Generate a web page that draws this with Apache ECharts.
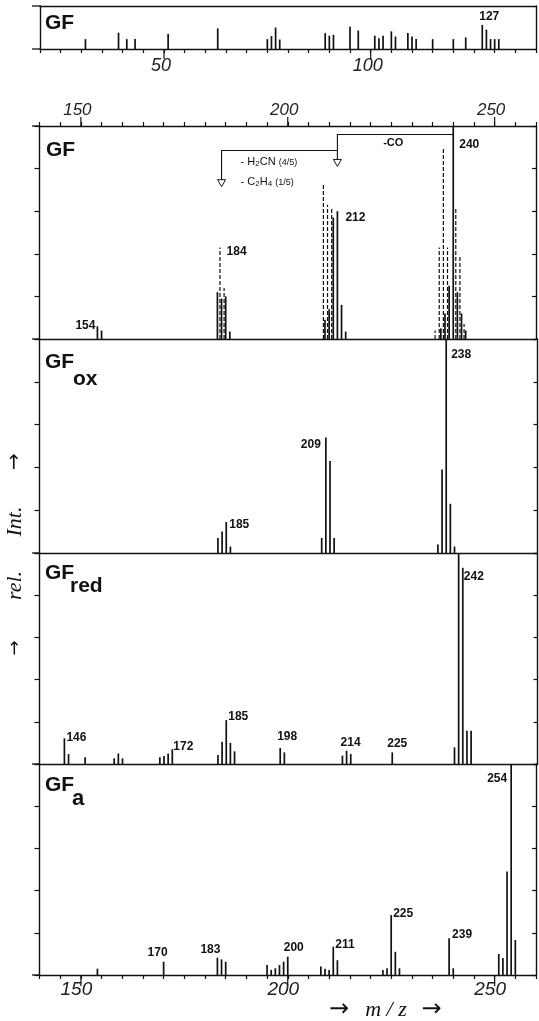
<!DOCTYPE html>
<html><head><meta charset="utf-8">
<script src="https://cdn.jsdelivr.net/npm/echarts@6/dist/echarts.min.js"></script>
<style>html,body{margin:0;padding:0;background:#fff}#c{width:539px;height:1021px}</style>
</head><body><div id="c"></div>
<script>
// ---------- DATA (m/z and relative intensity, % of panel height) ----------
// Top panel: GF, low-mass region
const lowMz  = [31,39,41,43,51,63,75,76,77,78,89,90,91,95,97,101,102,103,105,106,109,110,111,115,120,123,127,128,129,130,131];
const lowInt = [23,38,23,23,35,48,23,30,50,22,37,31,33,52,43,31,25,31,41,29,37,29,23,23,23,27,56,45,23,23,23];
const lowLabels = [127];
// GF (solid = measured, dashed = second pattern)
const gfSolidMz  = [154,155,183,184,185,186,209,210,211,212,213,214,237,238,239,240,241,242,243];
const gfSolidInt = [6,4,22,19,20,3.5,9,14,57,60,16,3.5,5,12,25,100,22,12,4];
const gfDashMz   = [184,185,209,210,211,236,237,238,239,241,242,243];
const gfDashInt  = [43,24,73,63,62,4,43,90,43,61,39,7];
const gfLabels = [154,184,212,240];
// GF ox
const oxMz  = [183,184,185,186,208,209,210,211,236,237,238,239,240];
const oxInt = [7,10,14.5,3,7,54,43,7,4,39,100,23,3];
const oxLabels = [185,209,238];
// GF red
const redMz  = [146,147,151,158,159,160,169,170,171,172,183,184,185,186,187,198,199,213,214,215,225,240,241,242,243,244];
const redInt = [12.2,4.7,3.2,2.7,5,2.7,3.2,3.8,5,7,4.3,10.6,20.8,10,6,7.6,5.5,4,6.3,4.7,5.5,7.9,100,93,15.7,15.7];
const redLabels = [146,172,185,198,214,225,242];
// GF a
const aMz  = [154,170,183,184,185,195,196,197,198,199,200,208,209,210,211,212,223,224,225,226,227,239,240,251,252,253,254,255];
const aInt = [3,6.3,8.2,7.4,6.3,4.7,2.4,3.2,4.7,6.3,8.7,4,3,2.4,13.4,7,2.4,3.2,28.4,11,3.2,17.4,3.2,10,8,49,100,16.6];
const aLabels = [170,183,200,211,225,239,254];
// axis tick labels
const lowTickLabels = [50,100];
const mainTickLabels = [150,200,250];
// fragmentation annotation (m/z from -> to, bracket level and arrow top in % of GF panel)
const fragments = [
  {from:240, to:212, level:96, arrowTop:84.3},
  {from:212, to:184, level:88.5, arrowTop:74.8}
];

// ---------- STYLE / LAYOUT ----------
const INK = '#111';
const FONT = 'Liberation Sans';
const labelPlace = {
  low:{127:['left',-3,-8]},
  gf:{154:['right',-2,-1],184:['left',5,4],212:['left',8,6],240:['left',6,19]},
  ox:{185:['left',3,3],209:['right',-5,7],238:['left',5,16]},
  red:{146:['left',2,-1],172:['left',1,-3],185:['left',2,-3],198:['left',-3,-11],214:['left',-6,-8],225:['left',-5,-9],242:['left',1,9]},
  a:{170:['right',4,-9],183:['right',3,-8],200:['left',-4,-9],211:['left',2,-2],225:['left',2,-1],239:['left',3,-4],254:['right',-4,15]}
};

const zip = (a,b)=>a.map((v,i)=>[v,b[i]]);
const chart = echarts.init(document.getElementById('c'), null, {renderer:'canvas', width:539, height:1021});

const grids = [
  {left:40, right:2.5, top:6, height:43},
  {left:39.5, right:1.5, top:126, height:213},
  {left:39.5, right:1.5, top:339, height:214},
  {left:39.5, right:1.5, top:553, height:211},
  {left:39.5, right:1.5, top:764, height:211}
];
const lineStyle = {color:INK, width:1.4};
function blankX(g, pos, min, max){
  return {type:'value', gridIndex:g, position:pos, min, max,
    axisLine:{show:true, onZero:false, lineStyle}, axisTick:{show:false}, axisLabel:{show:false}, splitLine:{show:false}};
}
function tickX(g, pos, min, max, labels, fs, pad, margin){
  return {type:'value', gridIndex:g, position:pos, min, max, interval:5,
    axisLine:{show:true, onZero:false, lineStyle},
    axisTick:{show:true, length:4, lineStyle:{color:INK, width:1.2}},
    axisLabel:{show:true, margin, fontFamily:FONT, fontStyle:'italic', fontSize:fs, color:'#222', padding:pad,
      formatter:v=>labels.includes(v)? String(v) : ''},
    splitLine:{show:false}};
}
const xAxis = [
  tickX(0,'bottom',20,140,lowTickLabels,18,[0,6,0,0],8),
  blankX(0,'top',20,140),
  tickX(1,'top',140,260,mainTickLabels,17,[0,7,0,0],7),
  blankX(1,'bottom',140,260),
  blankX(2,'bottom',140,260),
  blankX(3,'bottom',140,260),
  tickX(4,'bottom',140,260,mainTickLabels,19,[0,9,0,0],5)
];
const yAxis = [];
grids.forEach((g,i)=>{
  yAxis.push({type:'value', gridIndex:i, position:'left', min:0, max:100, interval:20,
    axisLine:{show:true, lineStyle}, axisTick:{show:i>0, length:5, lineStyle:{color:INK,width:1.2}},
    axisLabel:{show:false}, splitLine:{show:false}});
  yAxis.push({type:'value', gridIndex:i, position:'right', min:0, max:100, interval:20,
    axisLine:{show:true, lineStyle}, axisTick:{show:i>0, inside:true, length:4, lineStyle:{color:INK,width:1.2}},
    axisLabel:{show:false}, splitLine:{show:false}});
});

function sticks(xi, yi, data, dashed){
  return {type:'custom', xAxisIndex:xi, yAxisIndex:yi, data, clip:false, silent:true, animation:false,
    renderItem:(params, api)=>{
      const b = api.coord([api.value(0),0]);
      const t = api.coord([api.value(0),api.value(1)]);
      const dx = dashed ? -1.6 : 0;
      return {type:'line', shape:{x1:b[0]+dx,y1:b[1],x2:t[0]+dx,y2:t[1]},
        style:{stroke:INK, lineWidth: dashed?1.2:1.7, lineDash: dashed?[4,2]:null}};
    }};
}
const series = [
  sticks(0,0,zip(lowMz,lowInt),false),
  sticks(3,2,zip(gfSolidMz,gfSolidInt),false),
  sticks(3,2,zip(gfDashMz,gfDashInt),true),
  sticks(4,4,zip(oxMz,oxInt),false),
  sticks(5,6,zip(redMz,redInt),false),
  sticks(6,8,zip(aMz,aInt),false)
];
chart.setOption({animation:false, backgroundColor:'#fff', grid:grids, xAxis, yAxis, series});

// ---------- overlays computed through the chart's own coordinate systems ----------
const gr = [];
const P = (si, v)=>chart.convertToPixel({seriesIndex:si}, v);
const panels = [
  {key:'low', si:0, sets:[[lowMz,lowInt]], labels:lowLabels},
  {key:'gf', si:1, sets:[[gfSolidMz,gfSolidInt],[gfDashMz,gfDashInt]], labels:gfLabels},
  {key:'ox', si:3, sets:[[oxMz,oxInt]], labels:oxLabels},
  {key:'red', si:4, sets:[[redMz,redInt]], labels:redLabels},
  {key:'a', si:5, sets:[[aMz,aInt]], labels:aLabels}
];
panels.forEach(p=>{
  p.labels.forEach(mz=>{
    let top = 0;
    p.sets.forEach(([m,v])=>{const k=m.indexOf(mz); if(k>=0) top=Math.max(top,v[k]);});
    const pt = P(p.si,[mz,top]);
    const [al,dx,dy] = labelPlace[p.key][mz];
    gr.push({type:'text', x:pt[0]+dx, y:pt[1]+dy, silent:true,
      style:{text:String(mz), fontFamily:FONT, fontWeight:'bold', fontSize:12, fill:INK, align:al, verticalAlign:'middle'}});
  });
});
// long major ticks
lowTickLabels.forEach(v=>{const a=chart.convertToPixel({xAxisIndex:0},v); gr.push({type:'line',shape:{x1:a,y1:49,x2:a,y2:59},style:{stroke:INK,lineWidth:1.2}});});
mainTickLabels.forEach(v=>{const a=chart.convertToPixel({xAxisIndex:2},v); gr.push({type:'line',shape:{x1:a,y1:126,x2:a,y2:117},style:{stroke:INK,lineWidth:1.2}});});
mainTickLabels.forEach(v=>{const a=chart.convertToPixel({xAxisIndex:6},v); gr.push({type:'line',shape:{x1:a,y1:975,x2:a,y2:986},style:{stroke:INK,lineWidth:1.2}});});
// left extensions of panel boundaries
[6,49,126,339,553,764,975].forEach(y=>gr.push({type:'line',shape:{x1:32,y1:y,x2:40,y2:y},style:{stroke:INK,lineWidth:1.3}}));
// fragmentation brackets
fragments.forEach(f=>{
  const a = P(1,[f.from,f.level]), b = P(1,[f.to,f.level]), c = P(1,[f.to,f.arrowTop]);
  gr.push({type:'polyline', shape:{points:[a,b,c]}, style:{stroke:INK, lineWidth:1.1, fill:null}});
  gr.push({type:'polygon', shape:{points:[[c[0]-4,c[1]],[c[0]+4,c[1]],[c[0],c[1]+7]]}, style:{stroke:INK, lineWidth:1, fill:'#fff'}});
});
const coPt = P(1,[225.5,92]);
gr.push({type:'text', x:coPt[0], y:coPt[1], style:{text:'-CO', fontFamily:FONT, fontWeight:'bold', fontSize:11, fill:INK, align:'center', verticalAlign:'middle'}});
const rich = {n:{fontFamily:FONT, fontSize:11, fill:INK}, s:{fontFamily:FONT, fontSize:8, fill:INK, verticalAlign:'bottom', padding:[4,0,0,0]}, f:{fontFamily:FONT, fontSize:9, fill:INK}};
const h2 = P(1,[188.6,83]);
gr.push({type:'text', x:h2[0], y:h2[1], style:{text:'{n|- H}{s|2}{n|CN }{f|(4/5)}', rich, align:'left', verticalAlign:'middle'}});
const c2 = P(1,[188.6,73.7]);
gr.push({type:'text', x:c2[0], y:c2[1], style:{text:'{n|- C}{s|2}{n|H}{s|4}{n| }{f|(1/5)}', rich, align:'left', verticalAlign:'middle'}});
// panel titles
const T = (txt,x,y,fs)=>gr.push({type:'text', x, y, style:{text:txt, fontFamily:FONT, fontWeight:'bold', fontSize:fs, fill:INK, align:'left', verticalAlign:'middle'}});
T('GF',45,23,21); T('GF',46,150,21);
T('GF',45,362,21); T('ox',73,379,21);
T('GF',45,573,21); T('red',70,586,21);
T('GF',45,785,21); T('a',72,799,22);
// y-axis title (reads bottom to top)
const R = (txt,y,fs,fam)=>gr.push({type:'text', x:15, y, rotation:Math.PI/2, style:{text:txt, fontFamily:fam, fontStyle:'italic', fontSize:fs, fill:INK, align:'center', verticalAlign:'middle'}});
R('→',461.5,20,'DejaVu Sans'); R('Int.',521.5,22,'Liberation Serif'); R('rel.',585.5,22,'Liberation Serif'); R('→',648,18,'DejaVu Sans');
// x-axis title
const B = (txt,x,fs,fam)=>gr.push({type:'text', x, y:1010, style:{text:txt, fontFamily:fam, fontStyle:'italic', fontSize:fs, fill:INK, align:'center', verticalAlign:'middle'}});
B('→',339,24,'DejaVu Sans'); B('m / z',386,22,'Liberation Serif'); B('→',431.5,24,'DejaVu Sans');
chart.setOption({graphic:gr});
</script></body></html>
